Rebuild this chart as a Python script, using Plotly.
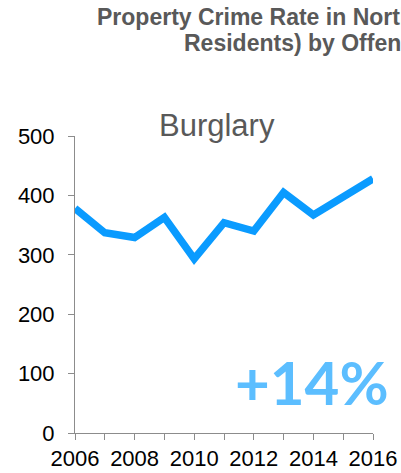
import plotly.graph_objects as go

# -----------------------------------------------------
# DATA
# -----------------------------------------------------

years = [2006, 2007, 2008, 2009, 2010, 2011, 2012, 2013, 2014, 2015, 2016]

burglary_rate = [378, 337, 329, 363, 293, 354, 340, 405, 367, 397, 428]

year_labels = ["2006", "", "2008", "", "2010", "", "2012", "", "2014", "", "2016"]

rate_ticks = [0, 100, 200, 300, 400, 500]

change_label = "+14%"

# -----------------------------------------------------
# FIGURE
# -----------------------------------------------------

fig = go.Figure()

fig.add_trace(
    go.Scatter(
        x=years,
        y=burglary_rate,
        mode="lines",
        line=dict(color="#0A9BFF", width=7.5),
        hoverinfo="x+y"
    )
)

axis_gray = "#8C8C8C"

fig.update_xaxes(
    range=[2006, 2016],
    tickvals=years,
    ticktext=year_labels,
    ticks="outside",
    ticklen=6,
    tickcolor=axis_gray,
    showline=True,
    linecolor=axis_gray,
    linewidth=1,
    showgrid=False,
    zeroline=False,
    automargin=False,
    tickfont=dict(family="Liberation Sans", size=22, color="#000000")
)

fig.update_yaxes(
    range=[0, 500],
    tickvals=rate_ticks,
    ticks="outside",
    ticklen=6,
    tickcolor=axis_gray,
    showline=True,
    linecolor=axis_gray,
    linewidth=1,
    showgrid=False,
    zeroline=False,
    automargin=False,
    ticklabelstandoff=9,
    tickfont=dict(family="Liberation Sans", size=22, color="#000000")
)

# pixel helpers for the 401x473 canvas (plot area 75..373 x 136..433)
def px_x(p):
    return (p - 75) / 298

def px_y(p):
    return (433 - p) / 297

title_font = dict(family="Liberation Sans", size=23, color="#595959")

fig.add_annotation(
    text="<b>Property Crime Rate in North Carolina</b>",
    xref="paper", yref="paper",
    x=px_x(95), y=px_y(2),
    xanchor="left", yanchor="top",
    showarrow=False,
    font=title_font
)

fig.add_annotation(
    text="<b>Residents) by Offense Type</b>",
    xref="paper", yref="paper",
    x=px_x(182), y=px_y(28),
    xanchor="left", yanchor="top",
    showarrow=False,
    font=title_font
)

fig.add_annotation(
    text="Burglary",
    xref="paper", yref="paper",
    x=px_x(217), y=px_y(106),
    xanchor="center", yanchor="top",
    showarrow=False,
    font=dict(family="Liberation Sans", size=31, color="#595959")
)

fig.add_annotation(
    text="<b>" + change_label + "</b>",
    xref="paper", yref="paper",
    x=px_x(391), y=px_y(382),
    xanchor="right", yanchor="middle",
    showarrow=False,
    font=dict(family="Lato", size=60, color="#5CBEFF")
)

fig.update_layout(
    width=401,
    height=473,
    margin=dict(l=75, r=28, t=136, b=40),
    plot_bgcolor="white",
    paper_bgcolor="white",
    showlegend=False
)

# drop the browser's default 8px body margin so the canvas sits at 0,0
fig.write_html(
    "out.html",
    config={"displayModeBar": False},
    post_script="document.body.style.margin='0';"
)
